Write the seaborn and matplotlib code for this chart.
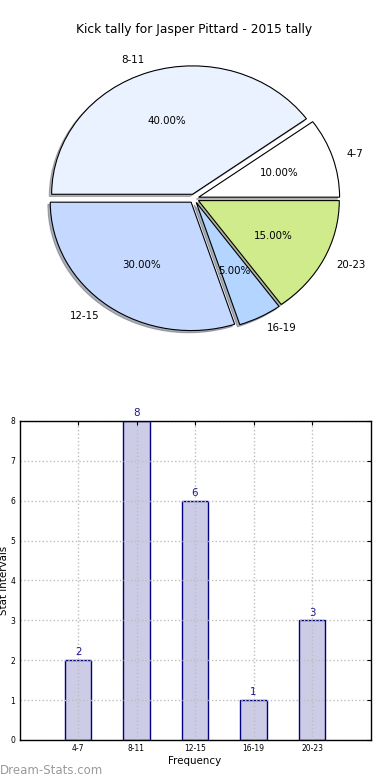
import matplotlib
matplotlib.use("Agg")
import matplotlib.pyplot as plt
import seaborn as sns
import pandas as pd

# ---- data ----
categories = ["4-7", "8-11", "12-15", "16-19", "20-23"]
counts = [2, 8, 6, 1, 3]
pie_colors = ["#ffffff", "#eaf1ff", "#c5d8ff", "#b3d5ff", "#d0eb8b"]
title = "Kick tally for Jasper Pittard - 2015 tally"
x_label = "Frequency"
y_label = "Stat Intervals"
y_ticks = [0, 1, 2, 3, 4, 5, 6, 7, 8]
watermark = "Dream-Stats.com"

sns.set_style("white")
plt.rcParams["font.family"] = ["DejaVu Sans"]
plt.rcParams.update({"text.color": "black", "axes.labelcolor": "black",
                     "xtick.color": "black", "ytick.color": "black"})

fig = plt.figure(figsize=(3.9, 7.8), dpi=100)

# ---- pie ----
ax1 = fig.add_axes([0.046, 0.5397, 0.903, 0.4115])
wedges, texts, autotexts = ax1.pie(
    counts, labels=categories, colors=pie_colors,
    explode=[0.035] * len(counts),
    shadow={"ox": -0.012, "oy": -0.012, "shade": 0.55},
    startangle=0,
    autopct="%1.2f%%", pctdistance=0.6, labeldistance=1.1,
    wedgeprops={"edgecolor": "black", "linewidth": 0.8},
    textprops={"fontsize": 7.4, "color": "black"},
)
ax1.set_aspect("auto")
ax1.set_xlim(-1.25, 1.25)
ax1.set_ylim(-1.25, 1.25)
ax1.set_title(title, fontsize=8.8, pad=4, color="black")

# ---- bars ----
ax2 = fig.add_axes([0.05, 0.0513, 0.9, 0.4090])
df = pd.DataFrame({"cat": categories, "count": counts})
sns.barplot(data=df, x="cat", y="count", ax=ax2, color="#ccccE6",
            saturation=1, width=0.46, edgecolor="#000080", linewidth=1.0,
            errorbar=None, zorder=1)
ax2.set_xlim(-1, len(categories))
ax2.set_ylim(0, 8)
ax2.set_yticks(y_ticks)
ax2.set_axisbelow("line")
ax2.grid(True, linestyle=":", color="#bdbdbd", linewidth=1.0)
for sp in ax2.spines.values():
    sp.set_visible(True)
    sp.set_color("black")
    sp.set_linewidth(1.0)
    sp.set_zorder(3)
ax2.tick_params(direction="in", top=True, right=True, length=3,
                labelsize=5.5, pad=3, width=0.8)
for i, v in enumerate(counts):
    ax2.text(i, v + 0.07, str(v), ha="center", va="bottom",
             fontsize=7.4, color="#1a1a8c")
ax2.set_xlabel(x_label, fontsize=7.4, labelpad=2)
ax2.set_ylabel(y_label, fontsize=7.4)
ax2.yaxis.set_label_coords(-0.030, 0.5)

fig.text(0.0, 0.0128, watermark, fontsize=8.5, color="#9a9a9a",
         ha="left", va="center")

fig.savefig("out.png", dpi=100)
